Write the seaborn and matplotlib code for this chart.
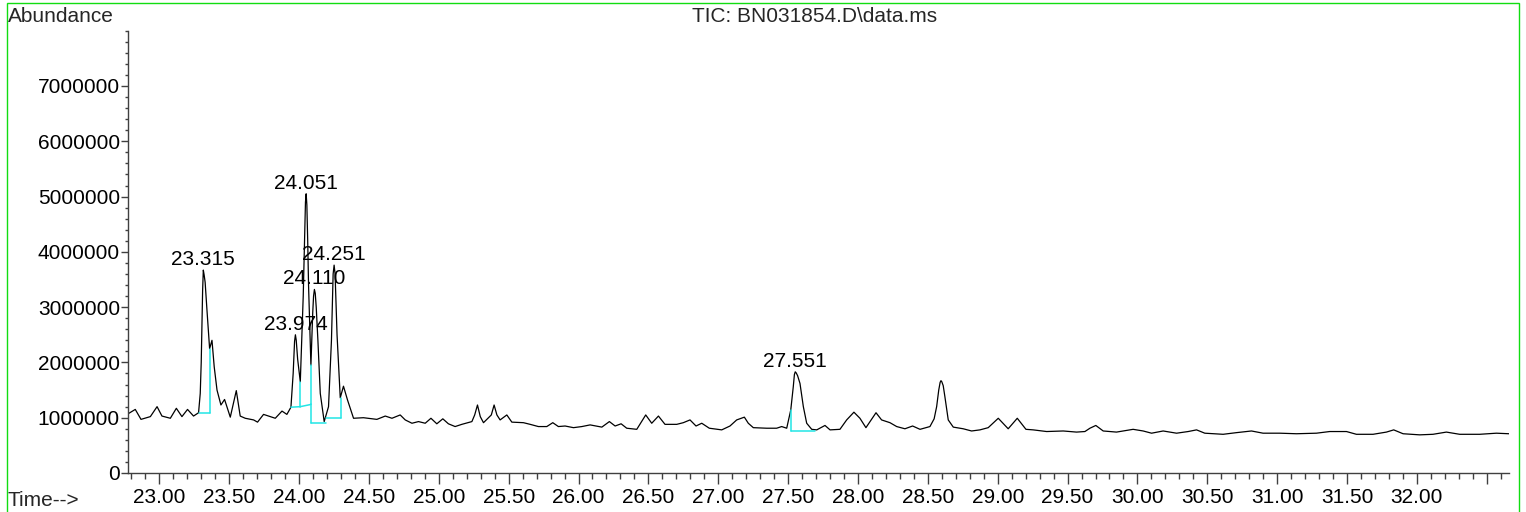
import matplotlib
matplotlib.use("Agg")
import matplotlib.pyplot as plt
import matplotlib.patches as mpatches
from matplotlib.ticker import FixedLocator, MultipleLocator
import numpy as np
import pandas as pd
import seaborn as sns

# ---------------- data ----------------
title = "TIC: BN031854.D\\data.ms"
y_label = "Abundance"
x_label = "Time-->"

# retention time (min)
rt = [22.776, 22.828, 22.869, 22.936, 22.984, 23.019, 23.079, 23.122, 23.162, 23.202,
      23.245, 23.281, 23.293, 23.300, 23.305, 23.310, 23.315, 23.321, 23.328, 23.341,
      23.360, 23.377, 23.393,
      23.413, 23.441, 23.467, 23.508, 23.551, 23.579, 23.615, 23.675, 23.703, 23.746,
      23.794, 23.830, 23.878, 23.913, 23.942, 23.958, 23.968, 23.974, 23.980, 23.990,
      24.009, 24.030, 24.040, 24.046, 24.051, 24.056, 24.062, 24.068, 24.085, 24.098,
      24.104, 24.110, 24.116, 24.123, 24.135, 24.152, 24.180, 24.211,
      24.232, 24.244, 24.251, 24.258, 24.272, 24.295, 24.318, 24.347, 24.390, 24.461,
      24.557, 24.617,
      24.665, 24.724, 24.760, 24.808, 24.855, 24.903, 24.944, 24.986, 25.029, 25.069,
      25.117, 25.165, 25.237, 25.257, 25.277, 25.297, 25.320, 25.376, 25.396, 25.416,
      25.439, 25.487, 25.523, 25.606, 25.654, 25.713, 25.773, 25.816, 25.856, 25.904,
      25.964, 26.024, 26.083, 26.167, 26.221, 26.262, 26.305, 26.345, 26.417, 26.481,
      26.524, 26.572, 26.619, 26.703, 26.750, 26.798, 26.841, 26.882, 26.936, 27.025,
      27.084, 27.132, 27.187, 27.215, 27.251, 27.347, 27.418, 27.454, 27.490, 27.519,
      27.537, 27.545, 27.551, 27.558, 27.568, 27.585, 27.609, 27.633, 27.669, 27.705,
      27.764, 27.800,
      27.871, 27.919, 27.971, 28.014, 28.057, 28.086, 28.129, 28.169, 28.229, 28.277,
      28.336, 28.391, 28.444, 28.515, 28.545, 28.563, 28.578, 28.588, 28.594, 28.600,
      28.610, 28.622,
      28.646, 28.682, 28.753, 28.813, 28.873, 28.932, 29.004, 29.075, 29.140, 29.202,
      29.254, 29.350, 29.469, 29.564, 29.624, 29.660, 29.702, 29.755, 29.850, 29.969,
      30.041, 30.101, 30.184, 30.280, 30.363, 30.423, 30.482, 30.613, 30.709, 30.816,
      30.899, 31.019, 31.138, 31.281, 31.376, 31.496, 31.567, 31.686, 31.782, 31.834,
      31.901, 32.020, 32.115, 32.211, 32.306, 32.449, 32.569, 32.659]

# abundance (millions of counts)
abund_m = [1.07, 1.15, 0.97, 1.02, 1.20, 1.03, 0.99, 1.17, 1.02, 1.15,
           1.03, 1.09, 1.44, 2.00, 2.65, 3.30, 3.67, 3.58, 3.45, 2.95,
           2.25, 2.40, 1.92,
           1.50, 1.23, 1.33, 1.01, 1.49, 1.03, 0.99, 0.96, 0.92, 1.06,
           1.02, 0.99, 1.12, 1.06, 1.19, 1.80, 2.38, 2.50, 2.40, 2.06,
           1.65, 3.20, 4.30, 4.90, 5.05, 4.85, 4.20, 3.40, 1.95, 2.90,
           3.20, 3.32, 3.25, 3.00, 2.40, 1.44, 0.93, 1.20,
           2.40, 3.60, 3.76, 3.60, 2.50, 1.36, 1.57, 1.32, 0.99, 1.00,
           0.97, 1.03,
           0.99, 1.05, 0.96, 0.90, 0.93, 0.90, 0.99, 0.89, 0.98, 0.89,
           0.84, 0.88, 0.93, 1.05, 1.23, 1.02, 0.91, 1.05, 1.23, 1.05,
           0.96, 1.05, 0.92, 0.91, 0.88, 0.84, 0.84, 0.91, 0.84, 0.85,
           0.82, 0.84, 0.87, 0.83, 0.93, 0.85, 0.89, 0.81, 0.79, 1.05,
           0.90, 1.03, 0.88, 0.88, 0.91, 0.96, 0.85, 0.90, 0.81, 0.78,
           0.85, 0.96, 1.01, 0.90, 0.82, 0.81, 0.81, 0.84, 0.81, 1.14,
           1.56, 1.78, 1.83, 1.81, 1.76, 1.62, 1.20, 0.90, 0.79, 0.78,
           0.86, 0.78,
           0.79, 0.96, 1.10, 0.99, 0.82, 0.93, 1.09, 0.96, 0.91, 0.84,
           0.80, 0.85, 0.79, 0.84, 0.98, 1.20, 1.50, 1.64, 1.67, 1.65,
           1.58, 1.38,
           0.96, 0.83, 0.80, 0.76, 0.78, 0.82, 0.99, 0.80, 0.99, 0.79,
           0.78, 0.75, 0.76, 0.74, 0.75, 0.81, 0.86, 0.76, 0.74, 0.79,
           0.76, 0.72, 0.76, 0.72, 0.75, 0.78, 0.72, 0.70, 0.73, 0.76,
           0.72, 0.72, 0.71, 0.72, 0.75, 0.75, 0.70, 0.70, 0.74, 0.78,
           0.71, 0.69, 0.70, 0.74, 0.70, 0.70, 0.72, 0.71]

# labelled (integrated) peaks
peak_rt = [23.315, 23.974, 24.051, 24.110, 24.251, 27.551]
peak_abund_m = [3.67, 2.50, 5.05, 3.32, 3.76, 1.83]
peak_labels = ["23.315", "23.974", "24.051", "24.110", "24.251", "27.551"]

# integration baselines (cyan): start/end time and abundance
base_t0 = [23.281, 23.942, 24.009, 24.087, 24.195, 27.519]
base_t1 = [23.360, 24.009, 24.085, 24.195, 24.300, 27.693]
base_a0 = [1.09, 1.19, 1.20, 0.91, 0.99, 0.76]
base_a1 = [1.09, 1.20, 1.24, 0.91, 0.99, 0.76]
# drop lines: time, bottom, top
drop_t = [23.360, 24.009, 24.085, 24.087, 24.300, 27.519]
drop_lo = [1.09, 1.20, 1.24, 0.91, 0.99, 0.76]
drop_hi = [2.25, 1.65, 1.95, 1.24, 1.36, 1.14]

xtick_vals = [23.0, 23.5, 24.0, 24.5, 25.0, 25.5, 26.0, 26.5, 27.0, 27.5,
              28.0, 28.5, 29.0, 29.5, 30.0, 30.5, 31.0, 31.5, 32.0, 32.5]
xtick_labels = ["23.00", "23.50", "24.00", "24.50", "25.00", "25.50", "26.00",
                "26.50", "27.00", "27.50", "28.00", "28.50", "29.00", "29.50",
                "30.00", "30.50", "31.00", "31.50", "32.00", ""]
ytick_vals = [0, 1000000, 2000000, 3000000, 4000000, 5000000, 6000000, 7000000]
ytick_labels = ["0", "1000000", "2000000", "3000000", "4000000", "5000000",
                "6000000", "7000000"]

# ---------------- drawing ----------------
sns.set_style("ticks")
plt.rcParams["font.family"] = ["Liberation Sans", "DejaVu Sans"]
FS = 15.0

W, H = 1526, 512
fig = plt.figure(figsize=(W / 100, H / 100), dpi=100)
ax = fig.add_axes([128 / W, 1 - 473 / H, (1509 - 128) / W, (473 - 30.7) / H])

df = pd.DataFrame({"rt": rt, "abund": np.array(abund_m) * 1e6})
sns.lineplot(data=df, x="rt", y="abund", ax=ax, color="black", linewidth=0.9,
             estimator=None, sort=False, legend=False)

cyan = "#22e6e6"
for t0, t1, a0, a1 in zip(base_t0, base_t1, base_a0, base_a1):
    ax.plot([t0, t1], [a0 * 1e6, a1 * 1e6], color=cyan, lw=1.1, zorder=3)
for t, lo, hi in zip(drop_t, drop_lo, drop_hi):
    ax.plot([t, t], [lo * 1e6, hi * 1e6], color=cyan, lw=1.1, zorder=3)

for t, a, lab in zip(peak_rt, peak_abund_m, peak_labels):
    ax.annotate(lab, xy=(t, a * 1e6), xytext=(0, 5), textcoords="offset pixels",
                ha="center", va="baseline", fontsize=FS, color="black", zorder=5)

ax.set_xlim(22.776, 32.659)
ax.set_ylim(0, 8000000)
ax.xaxis.set_major_locator(FixedLocator(xtick_vals))
ax.set_xticklabels(xtick_labels)
ax.xaxis.set_minor_locator(MultipleLocator(0.1))
ax.yaxis.set_major_locator(FixedLocator(ytick_vals))
ax.set_yticklabels(ytick_labels)
ax.yaxis.set_minor_locator(MultipleLocator(200000))
ax.set_xlabel("")
ax.set_ylabel("")

for s in ["top", "right"]:
    ax.spines[s].set_visible(False)
for s in ["left", "bottom"]:
    ax.spines[s].set_color("#404040")
    ax.spines[s].set_linewidth(1.0)

ax.tick_params(axis="x", which="major", direction="out", length=7.7, width=1.0,
               color="#404040", labelsize=FS, pad=3, labelcolor="black")
ax.tick_params(axis="x", which="minor", direction="out", length=4.3, width=1.0,
               color="#404040")
ax.tick_params(axis="y", which="major", direction="out", length=4.8, width=1.0,
               color="#404040", labelsize=FS, pad=1, labelcolor="black")
ax.tick_params(axis="y", which="minor", direction="out", length=2.4, width=1.0,
               color="#404040")
ax.set_facecolor("white")
fig.patch.set_facecolor("white")

# header / footer texts
fig.text(7.5 / W, 1 - 22.5 / H, y_label, ha="left", va="baseline", fontsize=FS)
fig.text(815 / W, 1 - 22.5 / H, title, ha="center", va="baseline", fontsize=FS)
fig.text(7.5 / W, 1 - 506 / H, x_label, ha="left", va="baseline", fontsize=FS)

# green frame
frame = mpatches.Rectangle((6.7 / W, -0.05), (1519 - 6.7) / W, 1.05 - 3.3 / H,
                           transform=fig.transFigure, fill=False,
                           edgecolor="#11dd11", lw=1.0, clip_on=False)
fig.add_artist(frame)

fig.savefig("out.png", dpi=100, facecolor="white")
